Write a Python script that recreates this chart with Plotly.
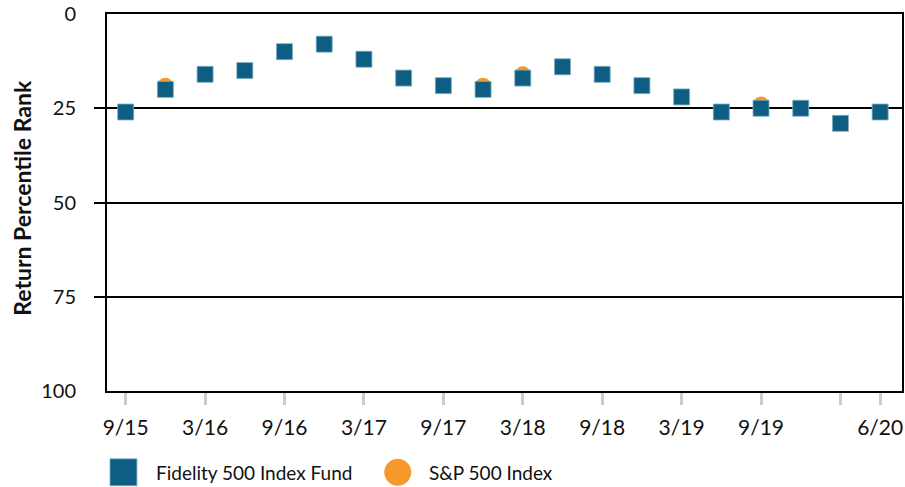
import plotly.graph_objects as go

# Quarter-end dates (m/yy)
quarters = ["9/15", "12/15", "3/16", "6/16", "9/16", "12/16", "3/17", "6/17",
            "9/17", "12/17", "3/18", "6/18", "9/18", "12/18", "3/19", "6/19",
            "9/19", "12/19", "3/20", "6/20"]

# Return percentile rank (lower is better)
fund_rank = [26, 20, 16, 15, 10, 8, 12, 17, 19, 20, 17, 14, 16, 19, 22, 26,
             25, 25, 29, 26]
index_rank = [26, 19, 16, 15, 10, 8, 12, 17, 19, 19, 16, 14, 16, 19, 22, 26,
              24, 25, 29, 26]

tick_quarters = ["9/15", "3/16", "9/16", "3/17", "9/17", "3/18", "9/18",
                 "3/19", "9/19", "3/20", "6/20"]
tick_labels = ["9/15", "3/16", "9/16", "3/17", "9/17", "3/18", "9/18",
               "3/19", "9/19", "", "6/20"]
rank_ticks = [0, 25, 50, 75, 100]

series_names = ["Fidelity 500 Index Fund", "S&P 500 Index"]
FUND_COLOR = "#0d5e82"
INDEX_COLOR = "#f7982a"
FONT = "Lato"

W, H = 905, 487
ML, MR, MT, MB = 107, 1, 13, 96


def px_x(px):
    return (px - ML) / (W - ML - MR)


def px_y(py):
    return (H - MB - py) / (H - MT - MB)


fig = go.Figure()

fig.add_trace(go.Scatter(
    x=quarters, y=index_rank, mode="markers", name=series_names[1],
    marker=dict(symbol="circle", size=16, color=INDEX_COLOR),
    showlegend=False,
))
fig.add_trace(go.Scatter(
    x=quarters, y=fund_rank, mode="markers", name=series_names[0],
    marker=dict(symbol="square", size=16, color=FUND_COLOR,
                line=dict(width=0.8, color="#7eaec4")),
    showlegend=False,
))

# Legend drawn below the plot area
shapes = [
    dict(type="rect", xref="paper", yref="paper",
         x0=px_x(110), x1=px_x(137), y0=px_y(486), y1=px_y(459),
         fillcolor=FUND_COLOR, line=dict(width=0.8, color="#7eaec4")),
    dict(type="circle", xref="paper", yref="paper",
         x0=px_x(385), x1=px_x(412), y0=px_y(486), y1=px_y(459),
         fillcolor=INDEX_COLOR, line=dict(width=0)),
]
annotations = [
    dict(text=series_names[0], xref="paper", yref="paper",
         x=px_x(154), y=px_y(473), xanchor="left", yanchor="middle",
         showarrow=False, font=dict(family=FONT, size=19, color="#111")),
    dict(text=series_names[1], xref="paper", yref="paper",
         x=px_x(428), y=px_y(473), xanchor="left", yanchor="middle",
         showarrow=False, font=dict(family=FONT, size=19, color="#111")),
    dict(text="<b>Return Percentile Rank</b>", xref="paper", yref="paper",
         x=px_x(21), y=px_y(197), xanchor="center", yanchor="middle",
         textangle=-90, showarrow=False,
         font=dict(family=FONT, size=23, color="#111")),
]

fig.update_layout(
    width=W, height=H,
    margin=dict(l=ML, r=MR, t=MT, b=MB),
    paper_bgcolor="white", plot_bgcolor="white",
    font=dict(family=FONT, size=21, color="#111"),
    shapes=shapes, annotations=annotations,
    showlegend=False,
)

fig.update_xaxes(
    type="category", categoryorder="array", categoryarray=quarters,
    range=[-0.47, 19.55],
    tickmode="array", tickvals=tick_quarters, ticktext=tick_labels,
    ticks="outside", ticklen=12, tickwidth=3, tickcolor="#c9ced3",
    ticklabelstandoff=5, tickfont=dict(size=21),
    showline=True, linecolor="black", linewidth=2, mirror=True,
    showgrid=False, zeroline=False,
)

fig.update_yaxes(
    range=[100, 0], tickmode="array", tickvals=rank_ticks,
    ticks="", ticklabelstandoff=25, tickfont=dict(size=20),
    showgrid=True, gridcolor="black", gridwidth=2,
    minor=dict(tickmode="array", tickvals=[25, 50, 75], ticks="outside",
               ticklen=11, tickwidth=1.5, tickcolor="black", showgrid=False),
    showline=True, linecolor="black", linewidth=2, mirror=True,
    zeroline=False,
)

fig.write_html("out.html")
